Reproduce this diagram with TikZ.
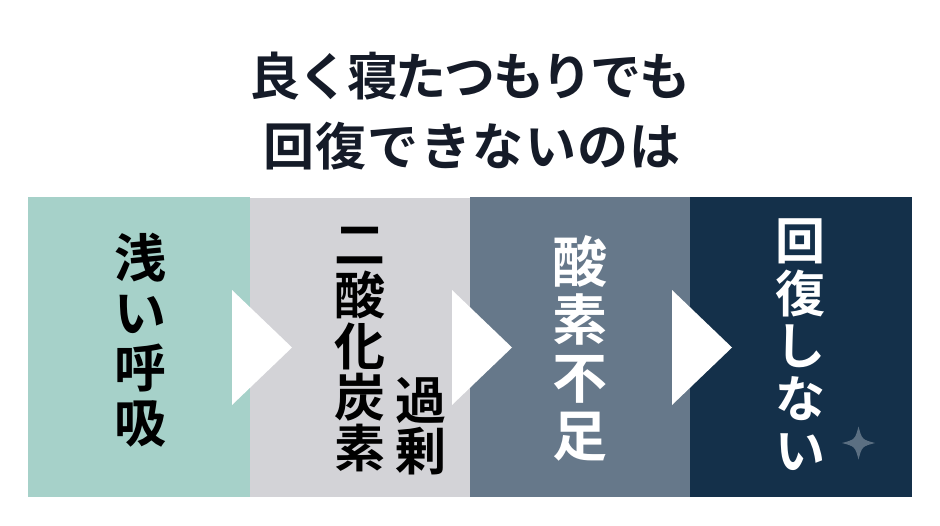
\documentclass[tikz,border=0pt]{standalone}
\usepackage{fontspec}
\usetikzlibrary{calc}
\newfontfamily\jp{Noto Sans CJK JP}[BoldFont={* Bold}]
\definecolor{cTeal}{HTML}{A6D1C9}
\definecolor{cGray}{HTML}{D3D3D7}
\definecolor{cSlate}{HTML}{66788A}
\definecolor{cNavy}{HTML}{14304A}
\definecolor{cTitle}{HTML}{151B28}
\definecolor{cStar}{HTML}{5B6F82}
\tikzset{
  panel/.style={draw=none, inner sep=0pt, outer sep=0pt, anchor=north west},
  chev/.style={fill=white, draw=none},
  ttl/.style={font=\jp\bfseries\fontsize{51}{54}\selectfont, text=cTitle, inner sep=0pt},
  vtext/.style={align=center, inner sep=0pt},
}
\begin{document}
\begin{tikzpicture}[x=1pt,y=-1pt]
\useasboundingbox[fill=white] (0,0) rectangle (940,525);
% panels
\node[panel, fill=cTeal, minimum width=222pt, minimum height=300pt] (p1) at (28,197) {};
\node[panel, fill=cGray, minimum width=220pt, minimum height=299pt] (p2) at (250,198) {};
\node[panel, fill=cSlate, minimum width=220pt, minimum height=300pt] (p3) at (470,197) {};
\node[panel, fill=cNavy, minimum width=222pt, minimum height=300pt] (p4) at (690,197) {};
% chevrons
\fill[chev] (232,290) -- (292,347.5) -- (232,405) -- cycle;
\fill[chev] (452,290) -- (512,347.5) -- (452,405) -- cycle;
\fill[chev] (672,290) -- (732,347.5) -- (672,405) -- cycle;
% title
\node[ttl] (t1) at (470,76) {\addfontfeature{LetterSpace=-4.5}良く寝たつもりでも};
\node[ttl] (t2) at (472,146) {\addfontfeature{LetterSpace=2.8}回復できないのは};
% panel texts
\node[vtext, font=\jp\bfseries\fontsize{52}{55}\selectfont, text=black] (l1) at (140,340) {浅\\い\\呼\\吸};
\node[vtext, font=\jp\bfseries\fontsize{51}{51}\selectfont, text=black] (l2) at (360,350) {二\\酸\\化\\炭\\素};
\node[vtext, font=\jp\bfseries\fontsize{51}{51}\selectfont, text=black] (l2b) at (421,426) {過\\剰};
\node[vtext, font=\jp\bfseries\fontsize{55}{58}\selectfont, text=white] (l3) at (580,348.5) {酸\\素\\不\\足};
\node[vtext, font=\jp\bfseries\fontsize{50}{52.5}\selectfont, text=white] (l4) at (800,345) {回\\復\\し\\な\\い};
% sparkle
\coordinate (s) at (858.5,443);
\fill[cStar] ($(s)+(0,-16.5)$) .. controls ($(s)+(3.5,-3.5)$) .. ($(s)+(16.5,0)$)
  .. controls ($(s)+(3.5,3.5)$) .. ($(s)+(0,16.5)$)
  .. controls ($(s)+(-3.5,3.5)$) .. ($(s)+(-16.5,0)$)
  .. controls ($(s)+(-3.5,-3.5)$) .. cycle;
\end{tikzpicture}
\end{document}
